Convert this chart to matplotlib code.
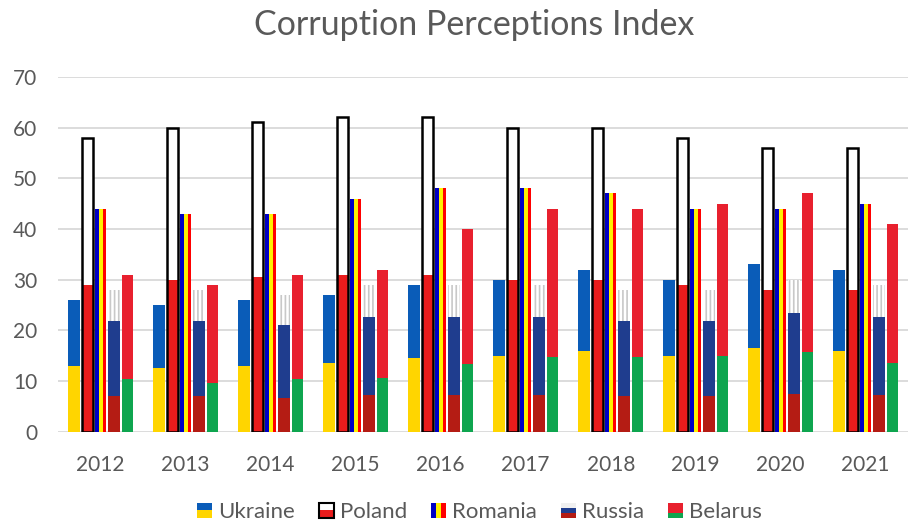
import matplotlib
matplotlib.use("Agg")
import matplotlib.pyplot as plt
from matplotlib.patches import Rectangle
from matplotlib.legend_handler import HandlerBase
import numpy as np

# ---- data ----
years = ["2012", "2013", "2014", "2015", "2016", "2017", "2018", "2019", "2020", "2021"]
ukraine = [26, 25, 26, 27, 29, 30, 32, 30, 33, 32]
poland = [58, 60, 61, 62, 62, 60, 60, 58, 56, 56]
romania = [44, 43, 43, 46, 48, 48, 47, 44, 44, 45]
russia = [28, 28, 27, 29, 29, 29, 28, 28, 30, 29]
belarus = [31, 29, 31, 32, 40, 44, 44, 45, 47, 41]
countries = ["Ukraine", "Poland", "Romania", "Russia", "Belarus"]

# ---- style ----
UA_BLUE, UA_YEL = "#0a5cb8", "#ffd500"
PL_RED = "#ea1c1c"
RO_BLUE, RO_YEL, RO_RED = "#0000c4", "#fff000", "#ff0000"
RU_BLUE, RU_RED = "#1f3d8e", "#b41c14"
BY_RED, BY_GREEN = "#e8202e", "#0ea54f"
GRAY = "#595959"

plt.rcParams["font.family"] = ["Lato", "DejaVu Sans"]
plt.rcParams["hatch.linewidth"] = 1.2

fig = plt.figure(figsize=(9.10, 5.26), dpi=100)
ax = fig.add_axes([0.064, 0.179, 0.934, 0.675])

x = np.arange(len(years))
w = 0.135
step = 0.157
u = np.array(ukraine, float)
p = np.array(poland, float)
ro = np.array(romania, float)
ru = np.array(russia, float)
by = np.array(belarus, float)

# Ukraine
xu = x - 2 * step
ax.bar(xu, u * 0.5, w, color=UA_YEL, linewidth=0, zorder=3)
ax.bar(xu, u * 0.5, w, bottom=u * 0.5, color=UA_BLUE, linewidth=0, zorder=3)
# Poland
xp = x - step
ax.bar(xp, p * 0.5, w, color=PL_RED, linewidth=0, zorder=3)
ax.bar(xp, p * 0.5, w, bottom=p * 0.5, color="white", linewidth=0, zorder=3)
ax.bar(xp, p, w * 0.9, fill=False, edgecolor="black", linewidth=1.8, zorder=4)
# Romania
for k, c in zip((-1, 0, 1), (RO_BLUE, RO_YEL, RO_RED)):
    ax.bar(x + k * w / 3, ro, w / 3, color=c, linewidth=0, zorder=3)
# Russia
xr = x + step
ax.bar(xr, ru * 0.25, w, color=RU_RED, linewidth=0, zorder=3)
ax.bar(xr, ru * 0.53, w, bottom=ru * 0.25, color=RU_BLUE, linewidth=0, zorder=3)
ax.bar(xr, ru * 0.22, w, bottom=ru * 0.78, color="white", edgecolor="#c8c8c8",
       hatch="||||", linewidth=0, zorder=3)
# Belarus
xb = x + 2 * step
ax.bar(xb, by / 3, w, color=BY_GREEN, linewidth=0, zorder=3)
ax.bar(xb, by * 2 / 3, w, bottom=by / 3, color=BY_RED, linewidth=0, zorder=3)

ax.set_xlim(-0.5, len(years) - 0.5)
ax.set_ylim(0, 70)
ax.set_yticks(range(0, 71, 10))
ax.set_xticks(x)
ax.set_xticklabels(years)
ax.grid(axis="y", color="#d9d9d9", linewidth=1.3, zorder=0)
ax.set_axisbelow(True)
for s in ax.spines.values():
    s.set_visible(False)
ax.tick_params(axis="both", length=0, labelsize=15, labelcolor=GRAY)
ax.tick_params(axis="y", pad=15)
ax.tick_params(axis="x", pad=17)

fig.suptitle("Corruption Perceptions Index", x=0.521, y=0.982, fontsize=24.5, color=GRAY)


# ---- legend with flag handles ----
class FlagHandler(HandlerBase):
    def __init__(self, stripes, vertical=False, outline=None):
        super().__init__()
        self.stripes = stripes
        self.vertical = vertical
        self.outline = outline

    def create_artists(self, legend, orig_handle, xdescent, ydescent, width, height, fontsize, trans):
        arts = []
        x0, y0 = -xdescent, -ydescent
        for (a, b, c) in self.stripes:
            if self.vertical:
                r = Rectangle((x0 + a * width, y0), (b - a) * width, height, facecolor=c,
                              edgecolor="none", transform=trans)
            else:
                r = Rectangle((x0, y0 + a * height), width, (b - a) * height, facecolor=c,
                              edgecolor="none", transform=trans)
            arts.append(r)
        if self.outline:
            arts.append(Rectangle((x0, y0), width, height, facecolor="none",
                                  edgecolor=self.outline, linewidth=1.5, transform=trans))
        return arts


handles = [Rectangle((0, 0), 1, 1) for _ in countries]
hmap = {
    handles[0]: FlagHandler([(0, 0.5, UA_YEL), (0.5, 1, UA_BLUE)]),
    handles[1]: FlagHandler([(0, 0.5, PL_RED), (0.5, 1, "white")], outline="black"),
    handles[2]: FlagHandler([(0, 1 / 3, RO_BLUE), (1 / 3, 2 / 3, RO_YEL), (2 / 3, 1, RO_RED)], vertical=True),
    handles[3]: FlagHandler([(0, 0.33, RU_RED), (0.33, 0.67, RU_BLUE), (0.67, 1, "#f0f0f0")]),
    handles[4]: FlagHandler([(0, 1 / 3, BY_GREEN), (1 / 3, 1, BY_RED)]),
}
fig.legend(handles, countries, handler_map=hmap, loc="lower center",
           bbox_to_anchor=(0.527, -0.031), ncol=5, frameon=False, fontsize=16,
           labelcolor=GRAY, handlelength=0.68, handleheight=0.63, handletextpad=0.27,
           columnspacing=1.08)

fig.savefig("out.png", dpi=100)
